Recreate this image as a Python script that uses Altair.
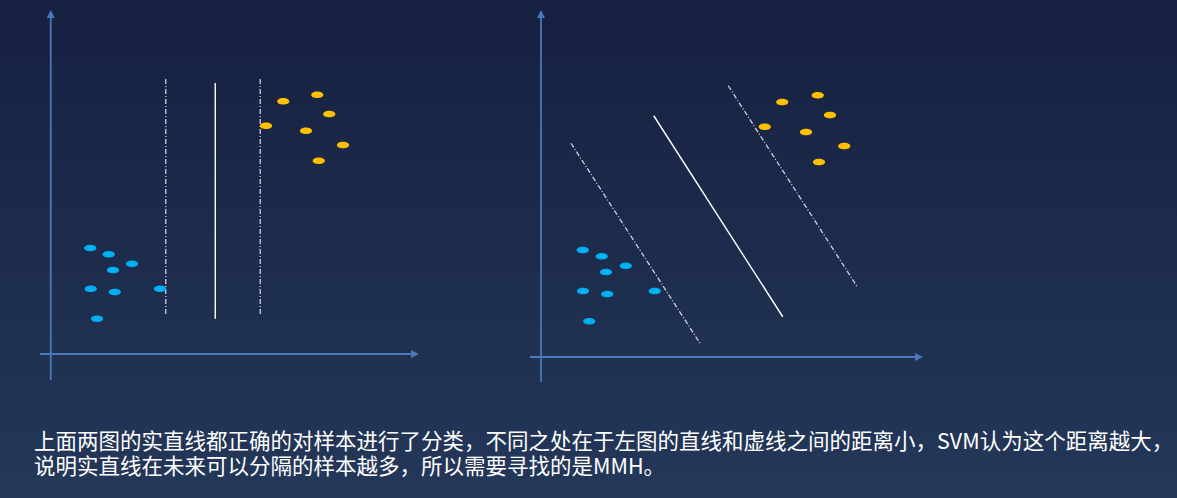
import altair as alt
import pandas as pd

# ---------------- data (units: 1 unit = one grid step of the sketch) ----------------
# Left panel
left_blue_x = [1.58, 2.32, 3.25, 2.49, 1.60, 2.56, 4.37, 1.85]
left_blue_y = [4.24, 3.99, 3.61, 3.36, 2.61, 2.48, 2.61, 1.41]
left_orange_x = [10.66, 9.30, 11.14, 8.61, 10.21, 11.69, 10.72]
left_orange_y = [10.37, 10.11, 9.60, 9.13, 8.93, 8.36, 7.73]
# lines: x1, y1, x2, y2
left_solid = [[6.58, 10.84, 6.58, 1.41]]
left_dashed = [[4.60, 11.00, 4.60, 1.52], [8.38, 11.00, 8.38, 1.52]]
left_axis_x = [-0.43, 14.73]   # x-axis extent (at y = 0)
left_axis_y = [-1.04, 13.76]   # y-axis extent (at x = 0)
left_domain_x = [-2.03, 17.97]
left_domain_y = [-1.84, 14.16]

# Right panel
right_blue_x = [1.67, 2.43, 3.39, 2.60, 1.68, 2.65, 4.55, 1.93]
right_blue_y = [4.28, 4.03, 3.65, 3.40, 2.64, 2.52, 2.64, 1.43]
right_orange_x = [11.07, 9.65, 11.56, 8.95, 10.60, 12.13, 11.12]
right_orange_y = [10.47, 10.20, 9.68, 9.21, 9.00, 8.44, 7.80]
right_solid = [[4.51, 9.65, 9.67, 1.61]]
right_dashed = [[1.20, 8.55, 6.36, 0.55], [7.49, 10.85, 12.65, 2.81]]
right_axis_x = [-0.44, 15.28]
right_axis_y = [-1.00, 13.88]
right_domain_x = [-1.64, 25.44]
right_domain_y = [-1.72, 14.28]

caption = [
    "上面两图的实直线都正确的对样本进行了分类，不同之处在于左图的直线和虚线之间的距离小，SVM认为这个距离越大，",
    "说明实直线在未来可以分隔的样本越多，所以需要寻找的是MMH。",
]

# ---------------- style ----------------
BLUE = "#00b0f0"
ORANGE = "#ffc000"
AXIS = "#4a78bd"
TOP, MID, BOT = "#162040", "#213354", "#243859"
ELLIPSE = "M -1 0 A 1 0.55 0 1 1 1 0 A 1 0.55 0 1 1 -1 0 Z"
ARROW_UP = "M 0 0 L -1 2 L 1 2 Z"
ARROW_RIGHT = "M 0 0 L -2 -1 L -2 1 Z"
FONT = "Noto Sans CJK SC"

P1_W, P2_W, P_H, T_H = 500, 677, 400, 98


def background(w, h, c0, c1):
    return alt.Chart(pd.DataFrame({"a": [0]})).mark_rect(
        color=alt.Gradient(
            gradient="linear",
            stops=[alt.GradientStop(color=c0, offset=0), alt.GradientStop(color=c1, offset=1)],
            x1=0, x2=0, y1=0, y2=1,
        )
    ).encode(x=alt.value(0), x2=alt.value(w), y=alt.value(0), y2=alt.value(h))


def panel(w, bx, by, ox, oy, solid, dashed, ax_x, ax_y, dom_x, dom_y):
    sx = alt.Scale(domain=dom_x, nice=False, zero=False)
    sy = alt.Scale(domain=dom_y, nice=False, zero=False)

    def X(f):
        return alt.X(f, type="quantitative", scale=sx, axis=None)

    def Y(f):
        return alt.Y(f, type="quantitative", scale=sy, axis=None)

    pts = pd.DataFrame({
        "x": bx + ox,
        "y": by + oy,
        "cls": ["blue"] * len(bx) + ["orange"] * len(ox),
    })
    points = alt.Chart(pts).mark_point(shape=ELLIPSE, filled=True, size=150, opacity=1, strokeWidth=0).encode(
        x=X("x"), y=Y("y"),
        color=alt.Color("cls:N", scale=alt.Scale(domain=["blue", "orange"], range=[BLUE, ORANGE]), legend=None),
    )

    sdf = pd.DataFrame(solid, columns=["x1", "y1", "x2", "y2"])
    ddf = pd.DataFrame(dashed, columns=["x1", "y1", "x2", "y2"])
    solid_l = alt.Chart(sdf).mark_rule(color="white", strokeWidth=1.4).encode(
        x=X("x1"), y=Y("y1"), x2="x2", y2="y2")
    dashed_l = alt.Chart(ddf).mark_rule(color="#dfe4ee", strokeWidth=1.3, strokeDash=[5, 2, 1, 2], opacity=0.9).encode(
        x=X("x1"), y=Y("y1"), x2="x2", y2="y2")

    axes = pd.DataFrame({
        "x1": [ax_x[0], 0], "y1": [0, ax_y[0]],
        "x2": [ax_x[1] - 0.15, 0], "y2": [0, ax_y[1] - 0.15],
    })
    axis_l = alt.Chart(axes).mark_rule(color=AXIS, strokeWidth=1.8).encode(
        x=X("x1"), y=Y("y1"), x2="x2", y2="y2")
    up = alt.Chart(pd.DataFrame({"x": [0], "y": [ax_y[1]]})).mark_point(
        shape=ARROW_UP, filled=True, size=64, color=AXIS, opacity=1, strokeWidth=0).encode(x=X("x"), y=Y("y"))
    right = alt.Chart(pd.DataFrame({"x": [ax_x[1]], "y": [0]})).mark_point(
        shape=ARROW_RIGHT, filled=True, size=64, color=AXIS, opacity=1, strokeWidth=0).encode(x=X("x"), y=Y("y"))

    return alt.layer(background(w, P_H, TOP, MID), axis_l, up, right, dashed_l, solid_l, points).properties(
        width=w, height=P_H)


p1 = panel(P1_W, left_blue_x, left_blue_y, left_orange_x, left_orange_y, left_solid, left_dashed,
           left_axis_x, left_axis_y, left_domain_x, left_domain_y)
p2 = panel(P2_W, right_blue_x, right_blue_y, right_orange_x, right_orange_y, right_solid, right_dashed,
           right_axis_x, right_axis_y, right_domain_x, right_domain_y)

tdf = pd.DataFrame({"row": list(range(len(caption))), "text": caption})
text = alt.Chart(tdf).mark_text(align="left", baseline="middle", fontSize=21.5, font=FONT, color="white").encode(
    x=alt.value(34),
    y=alt.Y("row:Q", scale=alt.Scale(domain=[0, 1], range=[43, 68]), axis=None),
    text="text:N",
)
textpanel = alt.layer(background(P1_W + P2_W, T_H, MID, BOT), text).properties(width=P1_W + P2_W, height=T_H)

chart = alt.vconcat(
    alt.hconcat(p1, p2, spacing=0),
    textpanel,
    spacing=0,
).properties(padding=0, background=BOT).configure_view(stroke=None).configure_concat(spacing=0)

chart.save("out.html", embed_options={"renderer": "svg", "actions": False})
